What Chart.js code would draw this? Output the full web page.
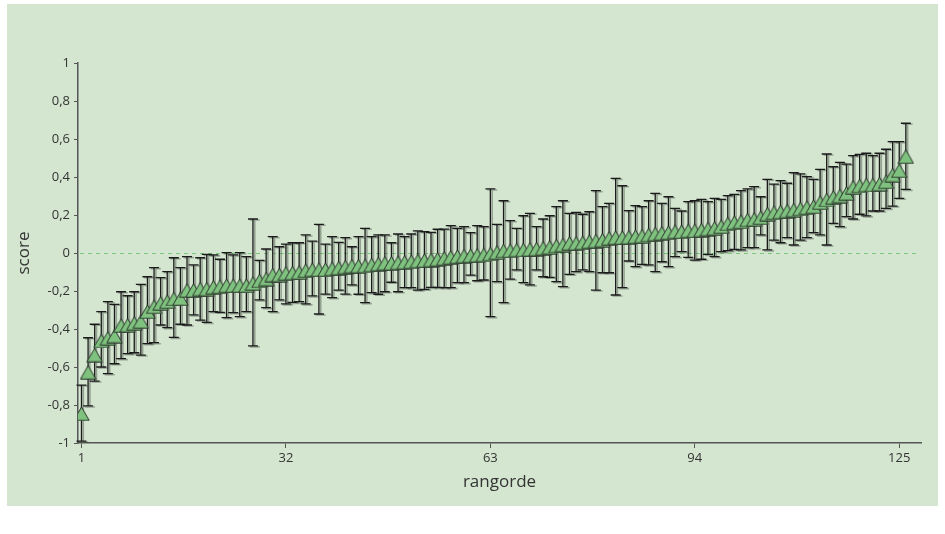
<!DOCTYPE html>
<html>
<head>
<meta charset="utf-8">
<title>score per rangorde</title>
<script src="https://cdn.jsdelivr.net/npm/chart.js@4.4.1/dist/chart.umd.min.js"></script>
<style>
  html, body { margin: 0; padding: 0; background: #ffffff; }
  #wrap { position: relative; width: 945px; height: 534px; }
</style>
</head>
<body>
<div id="wrap"><canvas id="chart" width="945" height="534"></canvas></div>
<script>
// Values (mean score and error bar ends per rank)
const means = [
  -0.846, -0.628, -0.537, -0.463, -0.449, -0.437, -0.382, -0.38, -0.37, -0.36,
  -0.309, -0.283, -0.265, -0.256, -0.242, -0.24, -0.197, -0.197, -0.19, -0.19,
  -0.18, -0.177, -0.172, -0.172, -0.172, -0.172, -0.16, -0.147, -0.137, -0.116,
  -0.116, -0.107, -0.105, -0.102, -0.093, -0.088, -0.088, -0.088, -0.083, -0.079,
  -0.074, -0.069, -0.069, -0.068, -0.063, -0.058, -0.054, -0.054, -0.051, -0.049,
  -0.046, -0.042, -0.04, -0.037, -0.033, -0.028, -0.023, -0.019, -0.016, -0.014,
  -0.012, -0.01, -0.005, 0.003, 0.011, 0.012, 0.016, 0.016, 0.019, 0.021,
  0.025, 0.03, 0.037, 0.042, 0.051, 0.051, 0.054, 0.06, 0.063, 0.068,
  0.077, 0.081, 0.081, 0.083, 0.086, 0.089, 0.095, 0.1, 0.104, 0.107,
  0.112, 0.112, 0.117, 0.117, 0.121, 0.126, 0.13, 0.139, 0.153, 0.16,
  0.165, 0.174, 0.177, 0.186, 0.205, 0.212, 0.216, 0.221, 0.226, 0.232,
  0.239, 0.244, 0.265, 0.279, 0.293, 0.3, 0.314, 0.346, 0.353, 0.358,
  0.358, 0.363, 0.375, 0.41, 0.433, 0.507
];

const upper = [
  -0.695, -0.446, -0.375, -0.309, -0.256, -0.27, -0.204, -0.225, -0.204, -0.165,
  -0.125, -0.077, -0.13, -0.098, -0.025, -0.077, -0.019, -0.063, -0.025, -0.007,
  -0.01, -0.033, 0.002, -0.01, 0.002, -0.019, 0.179, -0.039, 0.021, 0.086,
  0.033, 0.047, 0.054, 0.054, 0.095, 0.063, 0.151, 0.047, 0.086, 0.056,
  0.081, 0.033, 0.086, 0.13, 0.086, 0.095, 0.095, 0.054, 0.1, 0.086,
  0.1, 0.116, 0.112, 0.109, 0.125, 0.126, 0.144, 0.13, 0.139, 0.107,
  0.144, 0.139, 0.337, 0.151, 0.275, 0.17, 0.13, 0.196, 0.209, 0.139,
  0.179, 0.196, 0.244, 0.275, 0.209, 0.214, 0.204, 0.217, 0.328, 0.244,
  0.261, 0.393, 0.354, 0.223, 0.249, 0.244, 0.275, 0.314, 0.261, 0.296,
  0.235, 0.221, 0.27, 0.275, 0.282, 0.27, 0.288, 0.282, 0.302, 0.309,
  0.328, 0.337, 0.349, 0.296, 0.388, 0.363, 0.381, 0.367, 0.423, 0.416,
  0.402, 0.388, 0.44, 0.521, 0.454, 0.477, 0.468, 0.512, 0.519, 0.525,
  0.512, 0.525, 0.546, 0.586, 0.586, 0.683
];

const lower = [
  -0.99, -0.805, -0.674, -0.6, -0.635, -0.583, -0.556, -0.53, -0.525, -0.537,
  -0.477, -0.472, -0.379, -0.393, -0.444, -0.375, -0.379, -0.326, -0.353, -0.365,
  -0.309, -0.312, -0.34, -0.314, -0.335, -0.309, -0.489, -0.247, -0.288, -0.309,
  -0.247, -0.268, -0.26, -0.256, -0.268, -0.226, -0.321, -0.216, -0.235, -0.195,
  -0.216, -0.168, -0.217, -0.261, -0.209, -0.217, -0.204, -0.154, -0.204, -0.182,
  -0.182, -0.195, -0.191, -0.181, -0.181, -0.182, -0.182, -0.156, -0.156, -0.116,
  -0.146, -0.142, -0.335, -0.151, -0.261, -0.137, -0.089, -0.156, -0.168, -0.089,
  -0.125, -0.128, -0.151, -0.177, -0.112, -0.098, -0.089, -0.098, -0.195, -0.104,
  -0.104, -0.221, -0.182, -0.042, -0.072, -0.06, -0.063, -0.098, -0.046, -0.072,
  -0.019, 0.007, -0.023, -0.037, -0.033, -0.007, -0.019, 0.007, 0.012, 0.019,
  0.016, 0.028, 0.028, 0.095, 0.016, 0.068, 0.054, 0.081, 0.042, 0.068,
  0.081, 0.107, 0.095, 0.042, 0.156, 0.139, 0.191, 0.179, 0.204, 0.195,
  0.221, 0.221, 0.235, 0.247, 0.288, 0.335
];

const xTickValues = [1, 32, 63, 94, 125];

// rank of each entry (1-based position in the lists above)
const ranks = means.map((_, i) => i + 1);

const fontFamily = "'Open Sans', 'Noto Sans', sans-serif";
const panelColor = '#d4e6d0';
const axisColor = '#555555';
const textColor = '#333333';

// Dutch decimal comma on the y axis
function formatTick(v) {
    const r = Math.round(v * 10) / 10;
    return String(r).replace('.', ',');
}

// Green triangle marker, drawn once and used as pointStyle
function makeTriangle() {
    const c = document.createElement('canvas');
    c.width = 17;
    c.height = 15;
    const g = c.getContext('2d');
    g.beginPath();
    g.moveTo(8.5, 0.8);
    g.lineTo(16.2, 14.2);
    g.lineTo(0.8, 14.2);
    g.closePath();
    g.fillStyle = '#7fc27f';
    g.fill();
    g.lineWidth = 1;
    g.strokeStyle = '#2b352b';
    g.stroke();
    return c;
}

function drawBar(ctx, px, top, bot, color, width) {
    ctx.strokeStyle = color;
    ctx.lineWidth = width;
    ctx.beginPath();
    ctx.moveTo(px, top);
    ctx.lineTo(px, bot);
    ctx.moveTo(px - 5, top);
    ctx.lineTo(px + 5, top);
    ctx.moveTo(px - 5, bot);
    ctx.lineTo(px + 5, bot);
    ctx.stroke();
}

const panelPlugin = {
    id: 'panel',
    beforeDraw(chart) {
        const ctx = chart.ctx;
        ctx.save();
        ctx.fillStyle = panelColor;
        ctx.fillRect(7, 4, 931, 502);
        ctx.restore();
    }
};

const errorBarPlugin = {
    id: 'errorBars',
    beforeDatasetsDraw(chart) {
        const { ctx, chartArea, scales } = chart;
        const x = scales.x;
        const y = scales.y;
        ctx.save();

        // dashed zero line
        const y0 = Math.round(y.getPixelForValue(0)) + 0.5;
        ctx.strokeStyle = '#7cc67c';
        ctx.lineWidth = 1;
        ctx.setLineDash([4, 4]);
        ctx.beginPath();
        ctx.moveTo(chartArea.left + 2, y0);
        ctx.lineTo(chartArea.right - 3, y0);
        ctx.stroke();
        ctx.setLineDash([]);

        // error bars with a soft grey shadow
        ranks.forEach((r, i) => {
            const px = x.getPixelForValue(r);
            const top = y.getPixelForValue(upper[i]);
            const bot = y.getPixelForValue(lower[i]);
            drawBar(ctx, px + 1.8, top + 1, bot + 1, 'rgba(70, 80, 70, 0.45)', 1.6);
            drawBar(ctx, px, top, bot, '#1a1a1a', 1.3);
        });
        ctx.restore();
    }
};

const triangle = makeTriangle();

new Chart(document.getElementById('chart'), {
    type: 'scatter',
    data: {
        datasets: [{
            label: 'score',
            data: ranks.map((r, i) => ({ x: r, y: means[i] })),
            pointStyle: triangle,
            pointRadius: 8,
            showLine: false
        }]
    },
    options: {
        responsive: false,
        animation: false,
        devicePixelRatio: 1,
        layout: { padding: { left: 0, top: 63, right: 24, bottom: 36 } },
        plugins: {
            legend: { display: false },
            tooltip: { enabled: false }
        },
        scales: {
            x: {
                type: 'linear',
                min: 0.47,
                max: 128.3,
                afterBuildTicks: scale => {
                    scale.ticks = xTickValues.map(v => ({ value: v }));
                },
                afterFit: scale => { scale.height = 55; },
                grid: { drawOnChartArea: false, drawTicks: true, tickLength: 5, color: axisColor },
                border: { color: axisColor, width: 1.5 },
                ticks: {
                    color: textColor,
                    font: { family: fontFamily, size: 13 },
                    padding: 2,
                    maxRotation: 0,
                    autoSkip: false
                },
                title: {
                    display: true,
                    text: 'rangorde',
                    color: textColor,
                    font: { family: fontFamily, size: 17 },
                    padding: { top: 0, bottom: 6 }
                }
            },
            y: {
                min: -1,
                max: 1,
                afterFit: scale => { scale.width = 78; },
                grid: { drawOnChartArea: false, drawTicks: true, tickLength: 4, color: axisColor },
                border: { color: axisColor, width: 1.5 },
                ticks: {
                    stepSize: 0.2,
                    color: textColor,
                    font: { family: fontFamily, size: 13 },
                    padding: 4,
                    callback: v => formatTick(v)
                },
                title: {
                    display: true,
                    text: 'score',
                    color: textColor,
                    font: { family: fontFamily, size: 17 },
                    padding: { top: 14, bottom: 0 }
                }
            }
        }
    },
    plugins: [panelPlugin, errorBarPlugin]
});
</script>
</body>
</html>
